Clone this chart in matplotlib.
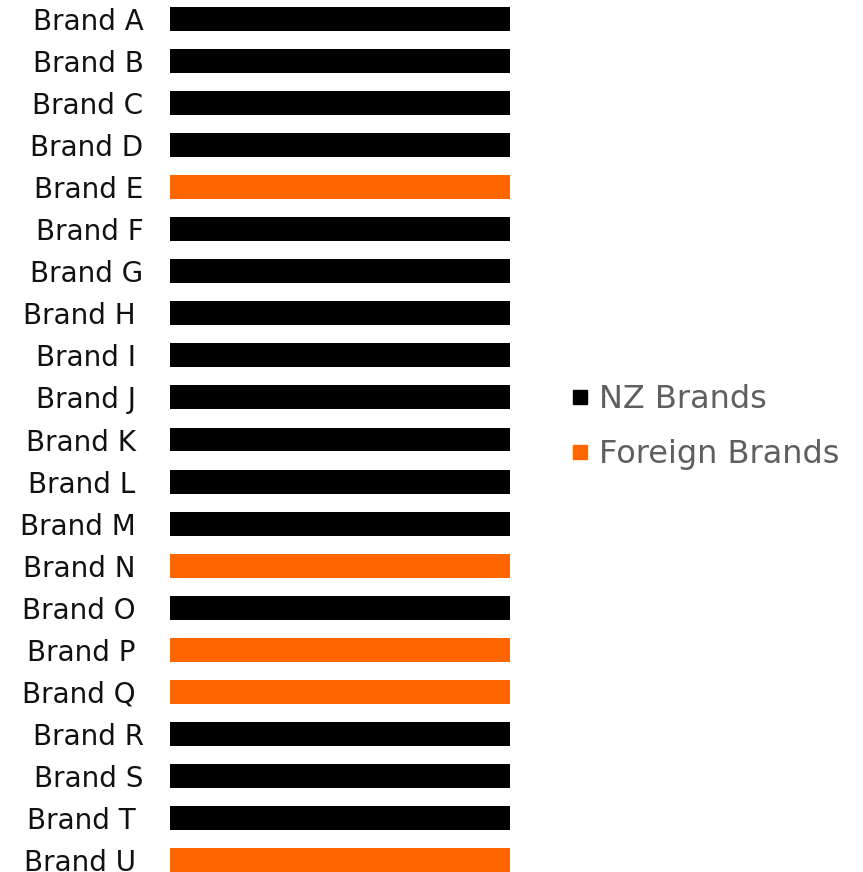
import matplotlib.pyplot as plt
import matplotlib.transforms as mtransforms
from matplotlib.lines import Line2D

brands = ['Brand A', 'Brand B', 'Brand C', 'Brand D', 'Brand E', 'Brand F', 'Brand G',
          'Brand H', 'Brand I', 'Brand J', 'Brand K', 'Brand L', 'Brand M', 'Brand N',
          'Brand O', 'Brand P', 'Brand Q', 'Brand R', 'Brand S', 'Brand T', 'Brand U']
values = [100] * len(brands)
origin = ['NZ', 'NZ', 'NZ', 'NZ', 'Foreign', 'NZ', 'NZ', 'NZ', 'NZ', 'NZ', 'NZ',
          'NZ', 'NZ', 'Foreign', 'NZ', 'Foreign', 'Foreign', 'NZ', 'NZ', 'NZ', 'Foreign']

colores = {'NZ': '#000000', 'Foreign': '#FF6600'}

plt.rcParams['font.family'] = 'DejaVu Sans'

fig = plt.figure(figsize=(8.63, 8.72), dpi=100)
ax = fig.add_axes([170 / 863, 0, 340 / 863, 1])

y = list(range(len(brands)))
ax.barh(y, values, height=0.57, color=[colores[o] for o in origin])
ax.set_xlim(0, 100)
ax.set_ylim(20.285, -0.452)

ax.set_yticks(y)
ax.set_yticklabels(brands, fontsize=20, color='#111111')
ax.tick_params(axis='y', length=0, pad=19)
ax.set_xticks([])
for s in ax.spines.values():
    s.set_visible(False)

# algunas etiquetas quedan un poco mas a la izquierda
corridas = ['Brand H', 'Brand I', 'Brand J', 'Brand K', 'Brand L', 'Brand M', 'Brand N',
            'Brand O', 'Brand P', 'Brand Q', 'Brand T', 'Brand U']
for lab in ax.get_yticklabels():
    if lab.get_text() in corridas:
        lab.set_transform(lab.get_transform() +
                          mtransforms.ScaledTranslation(-8 / 100, 0, fig.dpi_scale_trans))

handles = [Line2D([], [], marker='s', linestyle='None', color=colores['NZ'], markersize=10),
           Line2D([], [], marker='s', linestyle='None', color=colores['Foreign'], markersize=10)]
fig.legend(handles, ['NZ Brands', 'Foreign Brands'], loc='center left',
           bbox_to_anchor=(554 / 863, 1 - 427 / 872), frameon=False,
           fontsize=23, labelcolor='#5f5f5f', handlelength=0.6, handletextpad=0.3,
           labelspacing=0.75, borderpad=0)

fig.savefig('out.png', dpi=100)
